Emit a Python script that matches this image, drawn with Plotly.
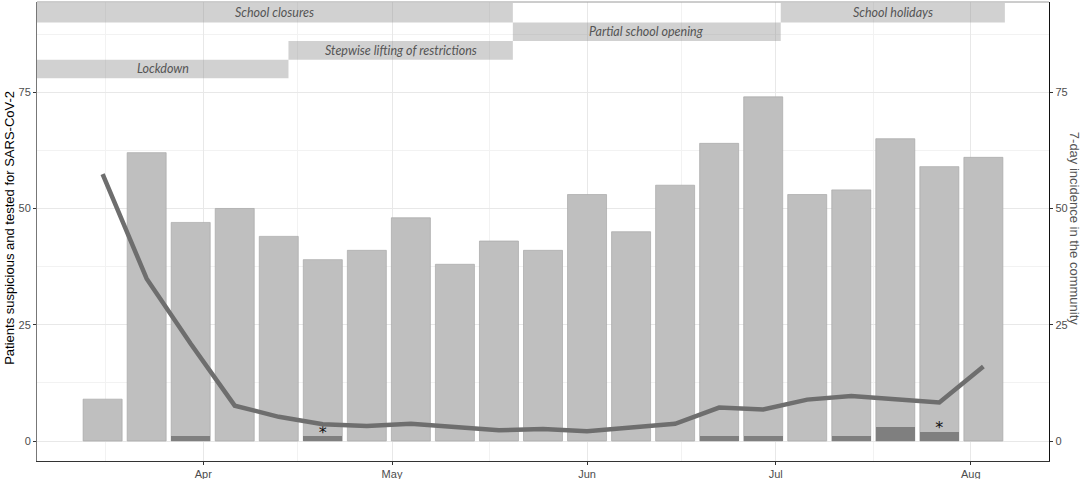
import plotly.graph_objects as go
import pandas as pd

# ---- data ----
weeks = ["2020-03-16", "2020-03-23", "2020-03-30", "2020-04-06", "2020-04-13",
         "2020-04-20", "2020-04-27", "2020-05-04", "2020-05-11", "2020-05-18",
         "2020-05-25", "2020-06-01", "2020-06-08", "2020-06-15", "2020-06-22",
         "2020-06-29", "2020-07-06", "2020-07-13", "2020-07-20", "2020-07-27",
         "2020-08-03"]
tested = [9, 62, 47, 50, 44, 39, 41, 48, 38, 43, 41, 53, 45, 55, 64, 74, 53, 54, 65, 59, 61]
positive = [0, 0, 1, 0, 0, 1, 0, 0, 0, 0, 0, 0, 0, 0, 1, 1, 0, 1, 3, 2, 0]
incidence = [57.4, 34.9, 20.9, 7.6, 5.2, 3.6, 3.2, 3.7, 3.0, 2.3, 2.6, 2.1, 2.9, 3.7,
             7.2, 6.8, 8.9, 9.7, 9.0, 8.3, 16.0]
flagged = ["2020-04-20", "2020-07-27"]

period_labels = ["Lockdown", "Stepwise lifting of restrictions", "School closures",
                 "Partial school opening", "School holidays"]
period_start = ["2020-03-05 13:40", "2020-04-14 13:00", "2020-03-05 13:40",
                "2020-05-20 05:00", "2020-07-01 19:00"]
period_end = ["2020-04-14 13:00", "2020-05-20 05:00", "2020-05-20 05:00",
              "2020-07-01 19:00", "2020-08-06 10:00"]
period_ylow = [78, 82, 90, 86, 90]
period_yhigh = [82, 86, 94.2, 90, 94.2]

month_ticks = ["2020-04-01", "2020-05-01", "2020-06-01", "2020-07-01", "2020-08-01"]
month_labels = ["Apr", "May", "Jun", "Jul", "Aug"]
month_minor = ["2020-03-16 12:00", "2020-04-16", "2020-05-16 12:00",
               "2020-06-16", "2020-07-16 12:00"]
y_ticks = [0, 25, 50, 75]

DAY_MS = 86400000
bar_width = 6.2 * DAY_MS
x_range = ["2020-03-05 13:40", "2020-08-13 10:20"]
y_range = [-4.3, 94.4]

fig = go.Figure()

fig.add_trace(go.Bar(x=weeks, y=tested, width=bar_width,
                     marker=dict(color="#bfbfbf", line=dict(color="#a8a8a8", width=0.7)),
                     showlegend=False, hoverinfo="skip"))
fig.add_trace(go.Bar(x=weeks, y=positive, width=bar_width,
                     marker=dict(color="#7f7f7f", line=dict(width=0)),
                     showlegend=False, hoverinfo="skip"))
fig.add_trace(go.Scatter(x=weeks, y=incidence, yaxis="y2", mode="lines",
                         line=dict(color="#6e6e6e", width=4.5),
                         showlegend=False, hoverinfo="skip"))

flag_y = [positive[weeks.index(d)] + 0.6 for d in flagged]
fig.add_trace(go.Scatter(x=flagged, y=flag_y, mode="text", text=["*"] * len(flagged),
                         textposition="middle center",
                         textfont=dict(size=16, color="#111111", family="DejaVu Sans"),
                         showlegend=False, hoverinfo="skip"))

for lab, x0, x1, y0, y1 in zip(period_labels, period_start, period_end, period_ylow, period_yhigh):
    fig.add_shape(type="rect", xref="x", yref="y", x0=x0, x1=x1, y0=y0, y1=y1,
                  fillcolor="rgba(140,140,140,0.40)", line=dict(width=0), layer="above")
    xc = pd.Timestamp(x0) + (pd.Timestamp(x1) - pd.Timestamp(x0)) / 2
    fig.add_annotation(x=xc, y=(y0 + y1) / 2, xref="x", yref="y", text=lab,
                       showarrow=False, xanchor="center", yanchor="middle",
                       font=dict(family="Lato", size=12.5, style="italic", color="#555555"))

# top border
fig.add_shape(type="line", xref="paper", yref="paper", x0=0, x1=1, y0=1, y1=1,
              line=dict(color="#9a9a9a", width=1))

fig.add_annotation(text="Patients suspicious and tested for SARS-CoV-2",
                   xref="paper", yref="paper", x=0, y=0.508, xshift=-27,
                   textangle=-90, showarrow=False, xanchor="center", yanchor="middle",
                   font=dict(family="Liberation Sans", size=13, color="#000000"))
fig.add_annotation(text="7-day incidence in the community",
                   xref="paper", yref="paper", x=1, y=0.508, xshift=25,
                   textangle=90, showarrow=False, xanchor="center", yanchor="middle",
                   font=dict(family="Liberation Sans", size=13, color="#555555"))

tickfont = dict(family="Liberation Sans", size=11, color="#4d4d4d")

fig.update_layout(
    width=1084, height=479,
    margin=dict(l=37, r=35, t=2, b=18, autoexpand=False),
    paper_bgcolor="white", plot_bgcolor="white",
    barmode="overlay", bargap=0,
    xaxis=dict(type="date", range=x_range, tickmode="array", tickvals=month_ticks,
               ticktext=month_labels, ticks="outside", ticklen=3, tickcolor="#333333",
               tickfont=tickfont, showgrid=True, gridcolor="#e8e8e8", gridwidth=1,
               minor=dict(tickmode="array", tickvals=month_minor, showgrid=True,
                          gridcolor="#f2f2f2", gridwidth=1, ticks=""),
               showline=True, linecolor="#333333", linewidth=1.2, zeroline=False,
               automargin=False, fixedrange=True),
    yaxis=dict(range=y_range, tickmode="array", tickvals=y_ticks, ticks="outside",
               ticklen=3, tickcolor="#333333", tickfont=tickfont, showgrid=True,
               gridcolor="#e8e8e8", gridwidth=1,
               minor=dict(dtick=12.5, tick0=0, showgrid=True, gridcolor="#f2f2f2",
                          gridwidth=1, ticks=""),
               showline=True, linecolor="#777777", linewidth=1, zeroline=False,
               automargin=False, fixedrange=True),
    yaxis2=dict(range=y_range, overlaying="y", side="right", tickmode="array",
                tickvals=y_ticks, ticks="outside", ticklen=3, tickcolor="#333333",
                tickfont=tickfont, showgrid=False, showline=True, linecolor="#111111",
                linewidth=1.2, zeroline=False, automargin=False, fixedrange=True),
)

fig.write_html("out.html", config={"displayModeBar": False, "staticPlot": True},
               post_script="document.body.style.margin='0px';document.body.style.padding='0px';")
